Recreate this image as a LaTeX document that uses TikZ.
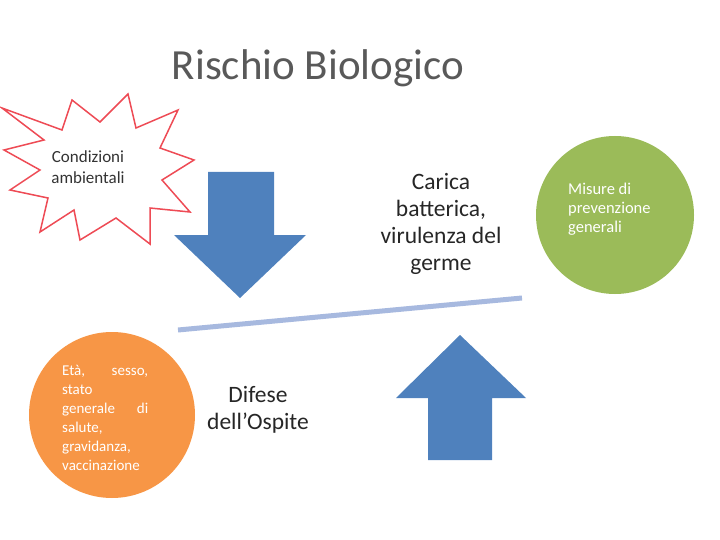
\documentclass[tikz,border=0pt]{standalone}
\usepackage{fontspec}
\setmainfont{Carlito}
\usetikzlibrary{calc}
\definecolor{arrblue}{HTML}{4F81BD}
\definecolor{linblue}{HTML}{A7B9DF}
\definecolor{grn}{HTML}{9BBB59}
\definecolor{org}{HTML}{F79646}
\definecolor{ttl}{HTML}{595959}
\definecolor{starred}{HTML}{EE4B55}
\tikzset{
  circ/.style={circle, fill=#1, draw=none},
  ctext/.style={text=white, align=left, anchor=north west, inner sep=0pt},
  lbl/.style={font=\fontsize{23.5}{27}\selectfont, align=center, text=black!85}
}
\begin{document}
\begin{tikzpicture}[x=1pt,y=-1pt]
\useasboundingbox (0,0) rectangle (720,540);
% title
\node[font=\fontsize{43}{48}\selectfont, text=ttl] (title) at (318,68) {Rischio Biologico};
% starburst
\draw[starred, line width=1.5pt, fill=white]
  (2,108) -- (62,130) -- (72,100) -- (100,122) -- (128,94) -- (136,128) -- (178,110)
  -- (160,148) -- (194,160) -- (162,180) -- (190,212) -- (150,208) -- (150,244)
  -- (116,218) -- (80,240) -- (74,210) -- (40,232) -- (48,198) -- (10,190)
  -- (40,170) -- (4,150) -- (44,140) -- cycle;
\node[font=\fontsize{17}{21}\selectfont, align=center, text=black!80] (cond) at (88,167) {Condizioni\\ambientali};
% down arrow
\fill[arrblue] (208,172) -- (274,172) -- (274,235) -- (306,235) -- (240,298) -- (174,235) -- (208,235) -- cycle;
% up arrow
\fill[arrblue] (428,460) -- (492,460) -- (492,398) -- (526,398) -- (460,335) -- (396,398) -- (428,398) -- cycle;
% line
\coordinate (la) at (178,330);
\coordinate (lb) at (522,298);
\draw[linblue, line width=5pt] (la) -- (lb);
% circles
\node[circ=grn, minimum size=158pt] (green) at (615,215) {};
\node[ctext, font=\fontsize{16.5}{19}\selectfont] (gtxt) at (568,183) {Misure di\\prevenzione\\generali};
\node[circ=org, minimum size=166pt] (orange) at (112,415) {};
\node[ctext, text width=86pt, font=\fontsize{15}{19}\selectfont] (otxt) at (62,365) {Età,\hfill sesso,\\stato\\generale\hfill di\\salute,\\gravidanza,\\vaccinazione};
% labels
\node[lbl] (carica) at (441,224) {Carica\\batterica,\\virulenza del\\germe};
\node[lbl] (difese) at (258,410) {Difese\\dell'Ospite};
\end{tikzpicture}
\end{document}
